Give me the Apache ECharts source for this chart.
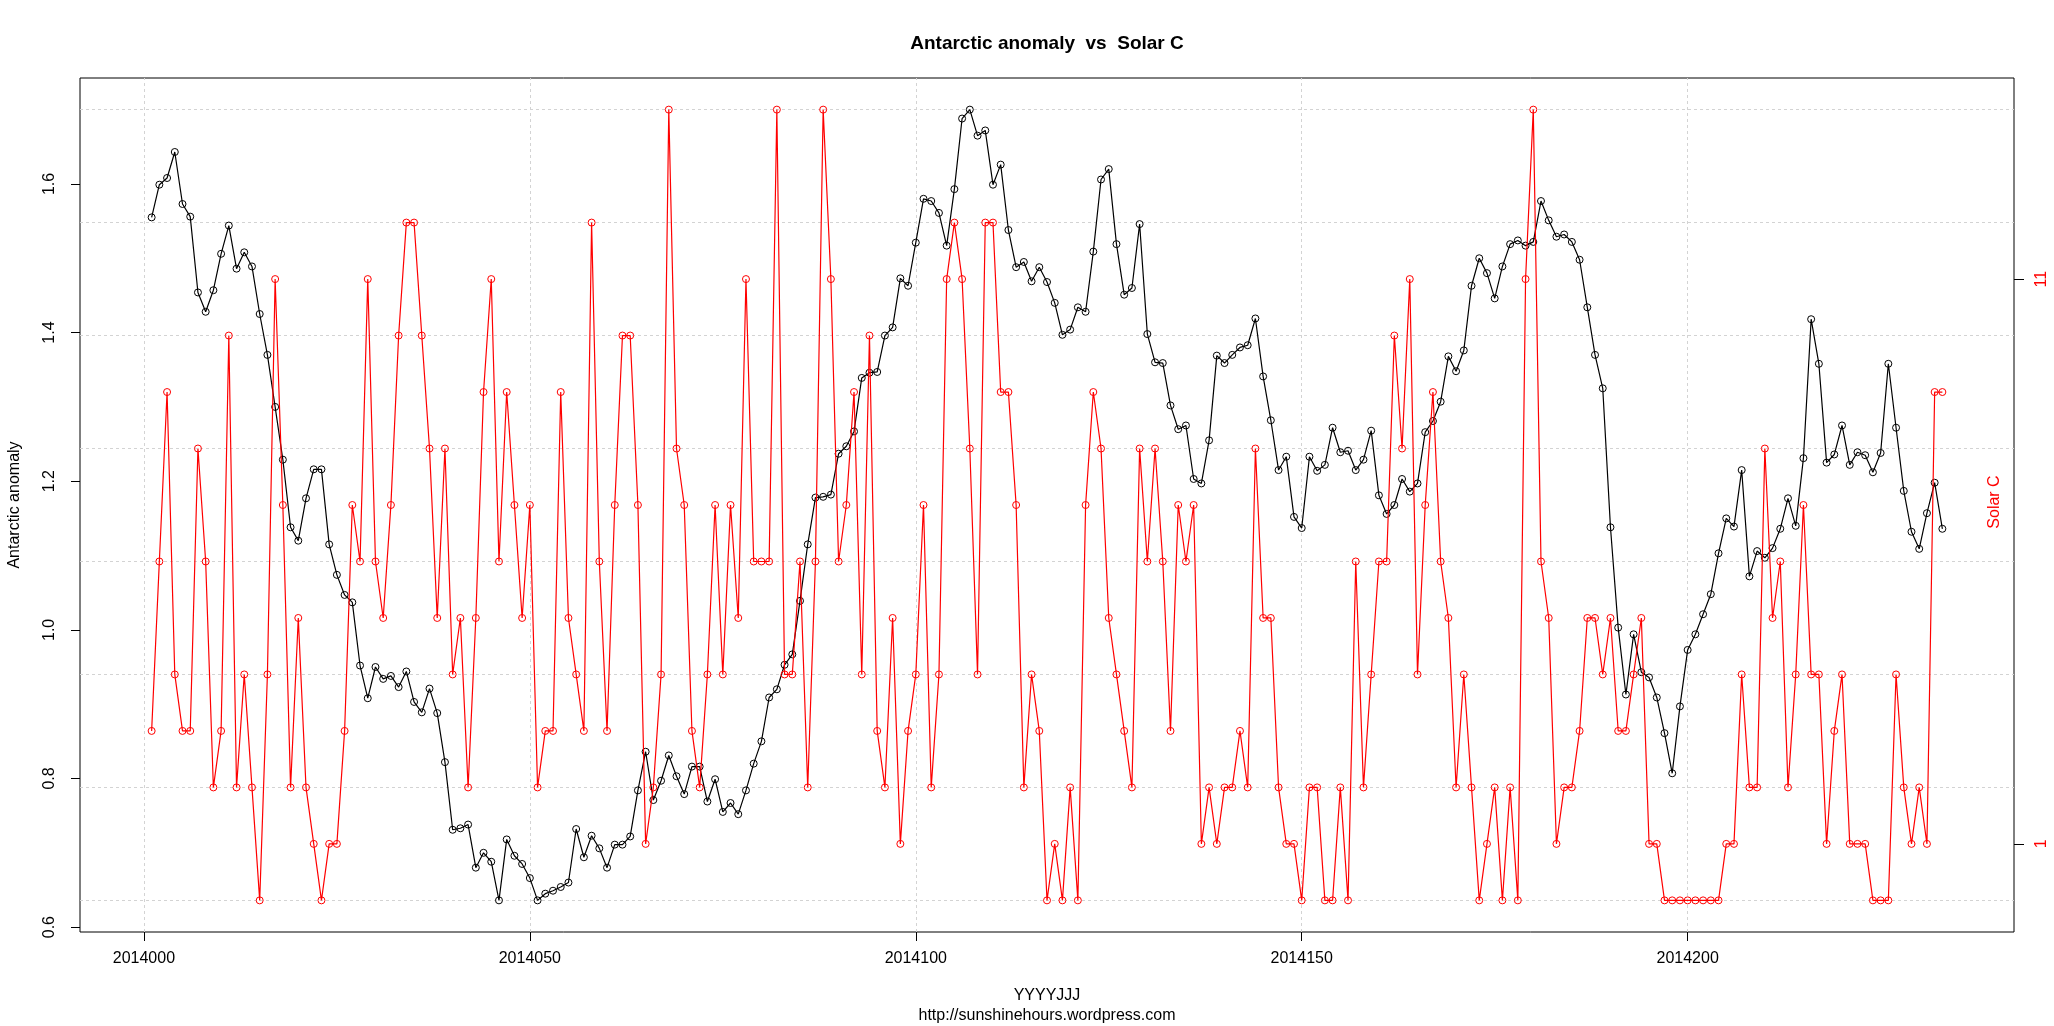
<!DOCTYPE html>
<html>
<head>
<meta charset="utf-8">
<script src="https://cdn.jsdelivr.net/npm/echarts@6/dist/echarts.min.js"></script>
<style>
html,body{margin:0;padding:0;background:#fff;}
#chart{width:2054px;height:1026px;}
</style>
</head>
<body>
<div id="chart"></div>
<script>
// Day codes (YYYYJJJ)
const days = [
2014001,2014002,2014003,2014004,2014005,2014006,2014007,2014008,2014009,2014010,
2014011,2014012,2014013,2014014,2014015,2014016,2014017,2014018,2014019,2014020,
2014021,2014022,2014023,2014024,2014025,2014026,2014027,2014028,2014029,2014030,
2014031,2014032,2014033,2014034,2014035,2014036,2014037,2014038,2014039,2014040,
2014041,2014042,2014043,2014044,2014045,2014046,2014047,2014048,2014049,2014050,
2014051,2014052,2014053,2014054,2014055,2014056,2014057,2014058,2014059,2014060,
2014061,2014062,2014063,2014064,2014065,2014066,2014067,2014068,2014069,2014070,
2014071,2014072,2014073,2014074,2014075,2014076,2014077,2014078,2014079,2014080,
2014081,2014082,2014083,2014084,2014085,2014086,2014087,2014088,2014089,2014090,
2014091,2014092,2014093,2014094,2014095,2014096,2014097,2014098,2014099,2014100,
2014101,2014102,2014103,2014104,2014105,2014106,2014107,2014108,2014109,2014110,
2014111,2014112,2014113,2014114,2014115,2014116,2014117,2014118,2014119,2014120,
2014121,2014122,2014123,2014124,2014125,2014126,2014127,2014128,2014129,2014130,
2014131,2014132,2014133,2014134,2014135,2014136,2014137,2014138,2014139,2014140,
2014141,2014142,2014143,2014144,2014145,2014146,2014147,2014148,2014149,2014150,
2014151,2014152,2014153,2014154,2014155,2014156,2014157,2014158,2014159,2014160,
2014161,2014162,2014163,2014164,2014165,2014166,2014167,2014168,2014169,2014170,
2014171,2014172,2014173,2014174,2014175,2014176,2014177,2014178,2014179,2014180,
2014181,2014182,2014183,2014184,2014185,2014186,2014187,2014188,2014189,2014190,
2014191,2014192,2014193,2014194,2014195,2014196,2014197,2014198,2014199,2014200,
2014201,2014202,2014203,2014204,2014205,2014206,2014207,2014208,2014209,2014210,
2014211,2014212,2014213,2014214,2014215,2014216,2014217,2014218,2014219,2014220,
2014221,2014222,2014223,2014224,2014225,2014226,2014227,2014228,2014229,2014230,
2014231,2014232,2014233
];

// Antarctic anomaly (left axis)
const antarctic = [
1.555,1.599,1.608,1.643,1.573,1.556,1.454,1.428,1.457,1.506,
1.544,1.486,1.508,1.489,1.425,1.370,1.300,1.229,1.138,1.120,
1.177,1.216,1.216,1.115,1.074,1.047,1.037,0.952,0.908,0.950,
0.934,0.938,0.923,0.944,0.903,0.889,0.921,0.888,0.822,0.731,
0.733,0.738,0.680,0.700,0.688,0.636,0.718,0.696,0.685,0.666,
0.636,0.645,0.649,0.654,0.660,0.732,0.694,0.723,0.706,0.680,
0.711,0.711,0.722,0.784,0.836,0.771,0.797,0.831,0.803,0.779,
0.816,0.816,0.769,0.799,0.755,0.767,0.752,0.784,0.820,0.850,
0.909,0.920,0.953,0.967,1.039,1.115,1.178,1.179,1.182,1.237,
1.247,1.267,1.339,1.346,1.347,1.396,1.407,1.473,1.463,1.521,
1.580,1.577,1.561,1.517,1.593,1.688,1.700,1.665,1.672,1.599,
1.626,1.538,1.488,1.495,1.469,1.488,1.468,1.440,1.397,1.404,
1.434,1.428,1.509,1.606,1.620,1.519,1.451,1.460,1.546,1.398,
1.360,1.359,1.302,1.270,1.275,1.203,1.197,1.255,1.369,1.359,
1.370,1.380,1.383,1.419,1.341,1.282,1.215,1.233,1.152,1.137,
1.233,1.214,1.222,1.272,1.239,1.241,1.215,1.229,1.268,1.181,
1.156,1.168,1.203,1.186,1.197,1.266,1.281,1.307,1.368,1.348,
1.376,1.463,1.500,1.480,1.446,1.489,1.519,1.524,1.517,1.522,
1.577,1.551,1.529,1.532,1.522,1.498,1.434,1.370,1.325,1.138,
1.003,0.913,0.994,0.943,0.936,0.909,0.861,0.807,0.897,0.973,
0.994,1.021,1.048,1.103,1.150,1.139,1.215,1.072,1.106,1.097,
1.110,1.136,1.177,1.140,1.231,1.418,1.358,1.225,1.236,1.275,
1.222,1.239,1.235,1.212,1.238,1.358,1.272,1.187,1.132,1.109,
1.157,1.198,1.136
];

// Solar C (right axis)
const solarC = [
3,6,9,4,3,3,8,6,2,3,
10,2,4,2,0,4,11,7,2,5,
2,1,0,1,1,3,7,6,11,6,
5,7,10,12,12,10,8,5,8,4,
5,2,5,9,11,6,9,7,5,7,
2,3,3,9,5,4,3,12,6,3,
7,10,10,7,1,2,4,14,8,7,
3,2,4,7,4,7,5,11,6,6,
6,14,4,4,6,2,6,14,11,6,
7,9,4,10,3,2,5,1,3,4,
7,2,4,11,12,11,8,4,12,12,
9,9,7,2,4,3,0,1,0,2,
0,7,9,8,5,4,3,2,8,6,
8,6,3,7,6,7,1,2,1,2,
2,3,2,8,5,5,2,1,1,0,
2,2,0,0,2,0,6,2,4,6,
6,10,8,11,4,7,9,6,5,2,
4,2,0,1,2,0,2,0,11,14,
6,5,1,2,2,3,5,5,4,5,
3,3,4,5,1,1,0,0,0,0,
0,0,0,0,1,1,4,2,2,8,
5,6,2,4,7,4,4,1,3,4,
1,1,1,0,0,0,4,2,1,2,
1,9,9
];

// Tick labels
const xTicks = [2014000, 2014050, 2014100, 2014150, 2014200];
const leftTicks = [0.6, 0.8, 1.0, 1.2, 1.4, 1.6];
const rightTicks = [1, 11];
const gridLevels = [0, 2, 4, 6, 8, 10, 12, 14];

const titleText = 'Antarctic anomaly  vs  Solar C';
const xName = 'YYYYJJJ';
const subText = 'http://sunshinehours.wordpress.com';
const leftName = 'Antarctic anomaly';
const rightName = 'Solar C';

// R-style 4% axis extension
function ext(arr) {
  const mn = Math.min.apply(null, arr), mx = Math.max.apply(null, arr);
  const d = (mx - mn) * 0.04;
  return [mn - d, mx + d];
}
const xr = ext(days), yl = ext(antarctic), yr = ext(solarC);

const FONT = 'Liberation Sans, Arial, sans-serif';
const G = {left: 80, top: 78, right: 2014, bottom: 932};

const chart = echarts.init(document.getElementById('chart'), null, {renderer: 'canvas'});
const gridStyle = {color: '#d3d3d3', type: [3, 3], width: 1};

chart.setOption({
  animation: false,
  backgroundColor: '#fff',
  grid: {
    left: G.left, top: G.top, width: G.right - G.left, height: G.bottom - G.top,
    containLabel: false, outerBoundsMode: 'none',
    show: true, borderColor: '#000', borderWidth: 1, backgroundColor: 'transparent'
  },
  xAxis: {
    type: 'value', position: 'bottom', min: xr[0], max: xr[1],
    axisLine: {show: false, onZero: false},
    splitLine: {show: false},
    axisTick: {show: true, inside: false, length: 9, lineStyle: {color: '#000', width: 1}, customValues: xTicks},
    axisLabel: {show: true, customValues: xTicks, margin: 19, fontSize: 16, fontFamily: FONT, color: '#000',
      formatter: v => String(Math.round(v))}
  },
  yAxis: [
    {
      type: 'value', position: 'left', min: yl[0], max: yl[1],
      axisLine: {show: false, onZero: false}, splitLine: {show: false},
      axisTick: {show: true, inside: false, length: 9, lineStyle: {color: '#000', width: 1}, customValues: leftTicks},
      axisLabel: {show: true, customValues: leftTicks, rotate: 90, margin: 22, fontSize: 16, fontFamily: FONT, color: '#000',
        formatter: v => Number(v).toFixed(1)}
    },
    {
      type: 'value', position: 'right', min: yr[0], max: yr[1],
      axisLine: {show: false, onZero: false}, splitLine: {show: false},
      axisTick: {show: true, inside: false, length: 10, lineStyle: {color: '#000', width: 1}, customValues: rightTicks},
      axisLabel: {show: true, customValues: rightTicks, rotate: 90, margin: 20, fontSize: 16, fontFamily: FONT, color: '#ff0000',
        formatter: v => String(Math.round(v))}
    }
  ],
  graphic: [
    {type: 'text', x: 1047, y: 44, style: {text: titleText, font: 'bold 19px ' + FONT, fill: '#000', align: 'center', verticalAlign: 'middle', textAlign: 'center', textVerticalAlign: 'middle'}},
    {type: 'text', x: 1047, y: 996, style: {text: xName, font: '16px ' + FONT, fill: '#000', align: 'center', verticalAlign: 'middle', textAlign: 'center', textVerticalAlign: 'middle'}},
    {type: 'text', x: 1047, y: 1016, style: {text: subText, font: '16px ' + FONT, fill: '#000', align: 'center', verticalAlign: 'middle', textAlign: 'center', textVerticalAlign: 'middle'}},
    {type: 'text', x: 15, y: 505, rotation: Math.PI / 2, style: {text: leftName, font: '16px ' + FONT, fill: '#000', align: 'center', verticalAlign: 'middle', textAlign: 'center', textVerticalAlign: 'middle'}},
    {type: 'text', x: 1995, y: 502, rotation: Math.PI / 2, style: {text: rightName, font: '16px ' + FONT, fill: '#ff0000', align: 'center', verticalAlign: 'middle', textAlign: 'center', textVerticalAlign: 'middle'}}
  ],
  series: [
    {
      name: leftName, type: 'line', xAxisIndex: 0, yAxisIndex: 0,
      data: days.map((d, i) => [d, antarctic[i]]),
      symbol: 'circle', symbolSize: 7, showSymbol: true,
      lineStyle: {color: '#000', width: 1.2},
      itemStyle: {color: 'rgba(0,0,0,0)', borderColor: '#000', borderWidth: 1},
      emphasis: {disabled: true},
      markLine: {
        silent: true, symbol: 'none', z: 1, animation: false,
        label: {show: false},
        lineStyle: gridStyle,
        data: xTicks.map(v => ({xAxis: v}))
      },
      z: 2
    },
    {
      name: rightName, type: 'line', xAxisIndex: 0, yAxisIndex: 1,
      data: days.map((d, i) => [d, solarC[i]]),
      symbol: 'circle', symbolSize: 7, showSymbol: true,
      lineStyle: {color: '#ff0000', width: 1.2},
      itemStyle: {color: 'rgba(0,0,0,0)', borderColor: '#ff0000', borderWidth: 1},
      emphasis: {disabled: true},
      markLine: {
        silent: true, symbol: 'none', z: 1, animation: false,
        label: {show: false},
        lineStyle: gridStyle,
        data: gridLevels.map(v => ({yAxis: v}))
      },
      z: 3
    }
  ]
});
</script>
</body>
</html>
